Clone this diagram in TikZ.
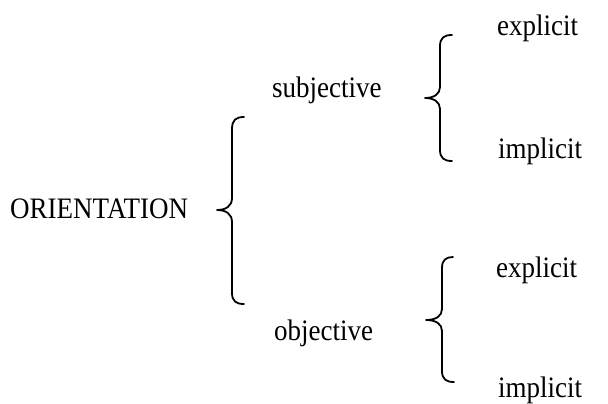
\documentclass[tikz,border=0pt]{standalone}
\usepackage{fontspec}
\usepackage{graphicx}
\setmainfont{Liberation Serif}
\newcommand{\tallword}[1]{\scalebox{1}[1.1]{#1}}
\begin{document}
\begin{tikzpicture}[x=1pt,y=-1pt,
  lbl/.style={anchor=base west,inner sep=0pt,font=\fontsize{27}{30}\selectfont},
  bracestroke/.style={line width=1.8pt,line cap=round,line join=round}]
\useasboundingbox (0,0) rectangle (608,404);
% labels
\node[lbl] (root) at (10,218) {\tallword{ORIENTATION}};
\node[lbl] (subj) at (272,97) {\tallword{subjective}};
\node[lbl] (obj) at (274,340) {\tallword{objective}};
\node[lbl] (sexp) at (497,36) {\tallword{explicit}};
\node[lbl] (simp) at (498,158) {\tallword{implicit}};
\node[lbl] (oexp) at (496,277) {\tallword{explicit}};
\node[lbl] (oimp) at (498,397) {\tallword{implicit}};
% big brace
\draw[bracestroke] (244,117) .. controls (236,117) and (232,120) .. (232,129)
  -- (232,198) .. controls (232,206) and (226,210) .. (217,210)
  .. controls (226,210) and (232,214) .. (232,222)
  -- (232,293) .. controls (232,301) and (236,304) .. (244,304);
% upper small brace
\draw[bracestroke] (452,35) .. controls (444,35) and (440,38) .. (440,46)
  -- (440,87) .. controls (440,94) and (434,98) .. (425,98)
  .. controls (434,98) and (440,102) .. (440,109)
  -- (440,150) .. controls (440,158) and (444,161) .. (452,161);
% lower small brace
\draw[bracestroke] (453,257) .. controls (446,257) and (442,260) .. (442,268)
  -- (442,309) .. controls (442,316) and (436,320) .. (426,320)
  .. controls (436,320) and (442,324) .. (442,331)
  -- (442,371) .. controls (442,379) and (446,382) .. (454,382);
\end{tikzpicture}
\end{document}
